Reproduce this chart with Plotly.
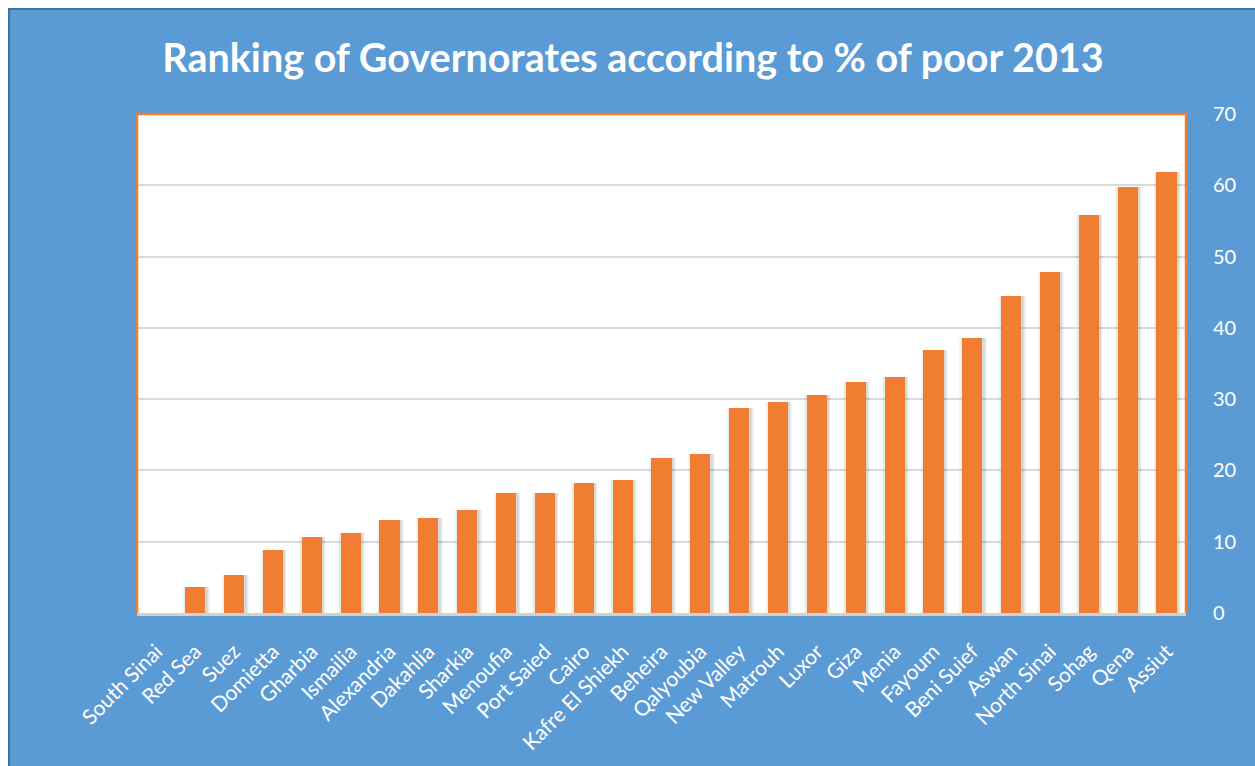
import plotly.graph_objects as go

# Share of population below the poverty line, 2013 (%), by governorate
governorates = [
    "South Sinai", "Red Sea", "Suez", "Domietta", "Gharbia", "Ismailia",
    "Alexandria", "Dakahlia", "Sharkia", "Menoufia", "Port Saied", "Cairo",
    "Kafre El Shiekh", "Beheira", "Qalyoubia", "New Valley", "Matrouh",
    "Luxor", "Giza", "Menia", "Fayoum", "Beni Suief", "Aswan",
    "North Sinai", "Sohag", "Qena", "Assiut",
]
poor_pct = [
    0.0, 3.7, 5.3, 8.9, 10.6, 11.2, 13.0, 13.3, 14.5, 16.8, 16.8, 18.2,
    18.6, 21.7, 22.3, 28.8, 29.6, 30.6, 32.4, 33.1, 36.9, 38.6, 44.4,
    47.8, 55.9, 59.7, 61.8,
]
y_ticks = [0, 10, 20, 30, 40, 50, 60, 70]

W, H = 1255, 766
L, R, T, B = 137, 69, 114, 153
PW, PH = W - L - R, H - T - B

BLUE = "#5B9BD5"
BLUE_EDGE = "#41719C"
ORANGE = "#ED7D31"
BAR = "#F07D32"
WHITE = "#FFFFFF"
FONT = "Lato, Open Sans, sans-serif"

BAR_W = 0.52

fig = go.Figure()

# soft drop shadow under each bar, built up from a few translucent layers
for w, a, shift in [(0.70, 0.03, 0.02), (0.64, 0.05, 0.025), (0.58, 0.07, 0.03)]:
    fig.add_trace(go.Bar(
        x=governorates, y=poor_pct, width=w, offset=-w / 2 + shift,
        marker=dict(color=f"rgba(0,0,0,{a})", line=dict(width=0)),
        hoverinfo="skip", showlegend=False,
    ))

fig.add_trace(go.Bar(
    x=governorates, y=poor_pct, width=BAR_W, offset=-BAR_W / 2,
    marker=dict(color=BAR, line=dict(width=0)),
    name="% of poor", showlegend=False,
))


def px(xp):
    return (xp - L) / PW


def py(yp):
    return 1 - (yp - T) / PH


shapes = [
    # white page margin on the top and left
    dict(type="rect", xref="paper", yref="paper", x0=px(0), x1=px(W + 5),
         y0=py(0), y1=py(8), fillcolor=WHITE, line=dict(width=0), layer="above"),
    dict(type="rect", xref="paper", yref="paper", x0=px(0), x1=px(8),
         y0=py(0), y1=py(H + 5), fillcolor=WHITE, line=dict(width=0), layer="above"),
    # dark edge of the blue chart panel
    dict(type="path", xref="paper", yref="paper",
         path=f"M {px(9)} {py(H + 5)} L {px(9)} {py(9)} L {px(W + 5)} {py(9)}",
         line=dict(color=BLUE_EDGE, width=2), layer="above"),
    # orange frame round the plot area (left, top, right)
    dict(type="path", xref="paper", yref="paper",
         path="M 0 0 L 0 1 L 1 1 L 1 0",
         line=dict(color=ORANGE, width=2.5), layer="above"),
]

fig.update_layout(
    width=W, height=H,
    margin=dict(l=L, r=R, t=T, b=B, pad=0),
    paper_bgcolor=BLUE,
    plot_bgcolor=WHITE,
    barmode="overlay",
    bargap=0,
    shapes=shapes,
    title=dict(
        text="<b>Ranking of Governorates according to % of poor 2013</b>",
        x=633 / W, xref="container", xanchor="center",
        y=1 - 58 / H, yref="container", yanchor="middle",
        font=dict(family=FONT, size=39.5, color=WHITE),
    ),
    xaxis=dict(
        type="category",
        tickangle=-45,
        tickfont=dict(family=FONT, size=21, color=WHITE),
        showgrid=False,
        showline=True, linecolor="#D8CFCA", linewidth=3,
        ticks="outside", ticklen=15, tickcolor="rgba(0,0,0,0)",
        range=[-0.5, len(governorates) - 0.5],
        fixedrange=True,
    ),
    yaxis=dict(
        side="right",
        range=[0, 70],
        tickvals=y_ticks,
        tickfont=dict(family=FONT, size=20, color=WHITE),
        showgrid=True, gridcolor="#D9D9D9", gridwidth=2,
        zeroline=False,
        showline=False,
        ticks="outside", ticklen=22, tickcolor="rgba(0,0,0,0)",
        fixedrange=True,
    ),
    font=dict(family=FONT, color=WHITE),
)

fig.write_html("out.html")
